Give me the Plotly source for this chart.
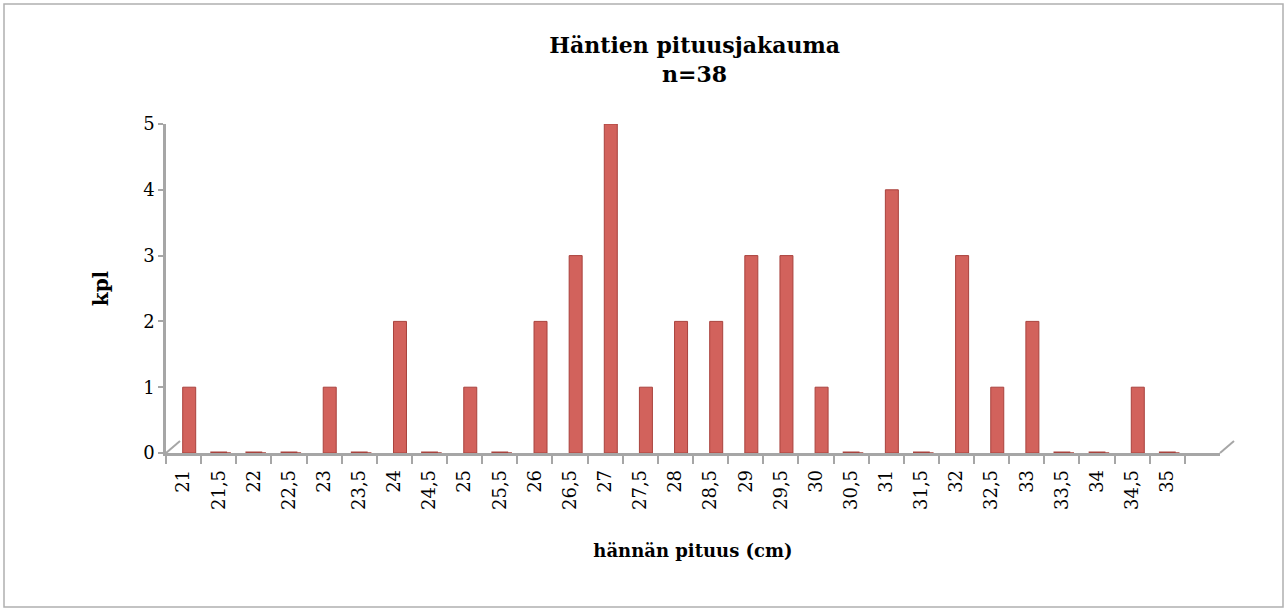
import plotly.graph_objects as go

categories = ["21", "21,5", "22", "22,5", "23", "23,5", "24", "24,5", "25", "25,5",
              "26", "26,5", "27", "27,5", "28", "28,5", "29", "29,5", "30", "30,5",
              "31", "31,5", "32", "32,5", "33", "33,5", "34", "34,5", "35"]
counts = [1, 0, 0, 0, 1, 0, 2, 0, 1, 0,
          2, 3, 5, 1, 2, 2, 3, 3, 1, 0,
          4, 0, 3, 1, 2, 0, 0, 1, 0]

W, H = 1286, 612
L, R, T, B = 166, 66, 124, 159
PW, PH = W - L - R, H - T - B

def px_x(x):
    return (x - L) / PW

def px_y(y):
    return (H - B - y) / PH

FONT = "DejaVu Serif"
BAR = "#d2625c"
EDGE = "#a9423d"

fig = go.Figure()
fig.add_trace(go.Bar(
    x=categories, y=counts, width=0.37, offset=-0.185 + 0.16,
    marker=dict(color=BAR, line=dict(color=EDGE, width=1)),
    hoverinfo="x+y", showlegend=False,
))
zx = [c for c, v in zip(categories, counts) if v == 0]
zy = [v for v in counts if v == 0]
fig.add_trace(go.Scatter(
    x=zx, y=zy, mode="markers",
    marker=dict(symbol="line-ew", size=12, line=dict(color=EDGE, width=3)),
    showlegend=False, hoverinfo="skip",
))

shapes = [
    # outer border
    dict(type="rect", xref="x domain", yref="y domain",
         x0=px_x(4), x1=px_x(1283), y0=px_y(607), y1=px_y(4),
         line=dict(color="#b0b0b0", width=1.5), fillcolor="rgba(0,0,0,0)", layer="below"),
    # 3D depth lines
    dict(type="line", xref="x domain", yref="y domain",
         x0=0, y0=0, x1=px_x(180), y1=px_y(441),
         line=dict(color="#a6a6a6", width=2)),
    dict(type="line", xref="x domain", yref="y domain",
         x0=1, y0=0, x1=px_x(1234), y1=px_y(441),
         line=dict(color="#a6a6a6", width=2)),
]

fig.update_layout(
    width=W, height=H,
    margin=dict(l=L, r=R, t=T, b=B),
    paper_bgcolor="white", plot_bgcolor="white",
    title=dict(text="<b>Häntien pituusjakauma<br>n=38</b>", x=645 / W, xref="paper",
               xanchor="center", y=1 - 53 / H, yanchor="top",
               font=dict(family=FONT, size=22, color="black")),
    shapes=shapes,
    xaxis=dict(
        type="category", categoryorder="array", categoryarray=categories,
        range=[-0.5, len(categories) + 0.5],
        tickangle=-90, tickson="boundaries", ticks="outside", ticklen=8,
        tickcolor="#a6a6a6", tickwidth=1.5, ticklabelstandoff=7,
        showline=True, linecolor="#a6a6a6", linewidth=2.5,
        showgrid=False, zeroline=False,
        tickfont=dict(family=FONT, size=18, color="black"),
        title=dict(text="<b>hännän pituus (cm)</b>", standoff=36,
                   font=dict(family=FONT, size=18, color="black")),
    ),
    yaxis=dict(
        range=[0, 5], dtick=1, ticks="outside", ticklen=5,
        tickcolor="#a6a6a6", tickwidth=1.5,
        showline=True, linecolor="#a6a6a6", linewidth=2.5,
        showgrid=False, zeroline=False,
        tickfont=dict(family=FONT, size=18, color="black"),
        title=dict(text="<b>kpl</b>", standoff=30,
                   font=dict(family=FONT, size=20, color="black")),
    ),
)

fig.write_html("out.html", config={"displayModeBar": False},
               post_script="document.body.style.margin='0';")
